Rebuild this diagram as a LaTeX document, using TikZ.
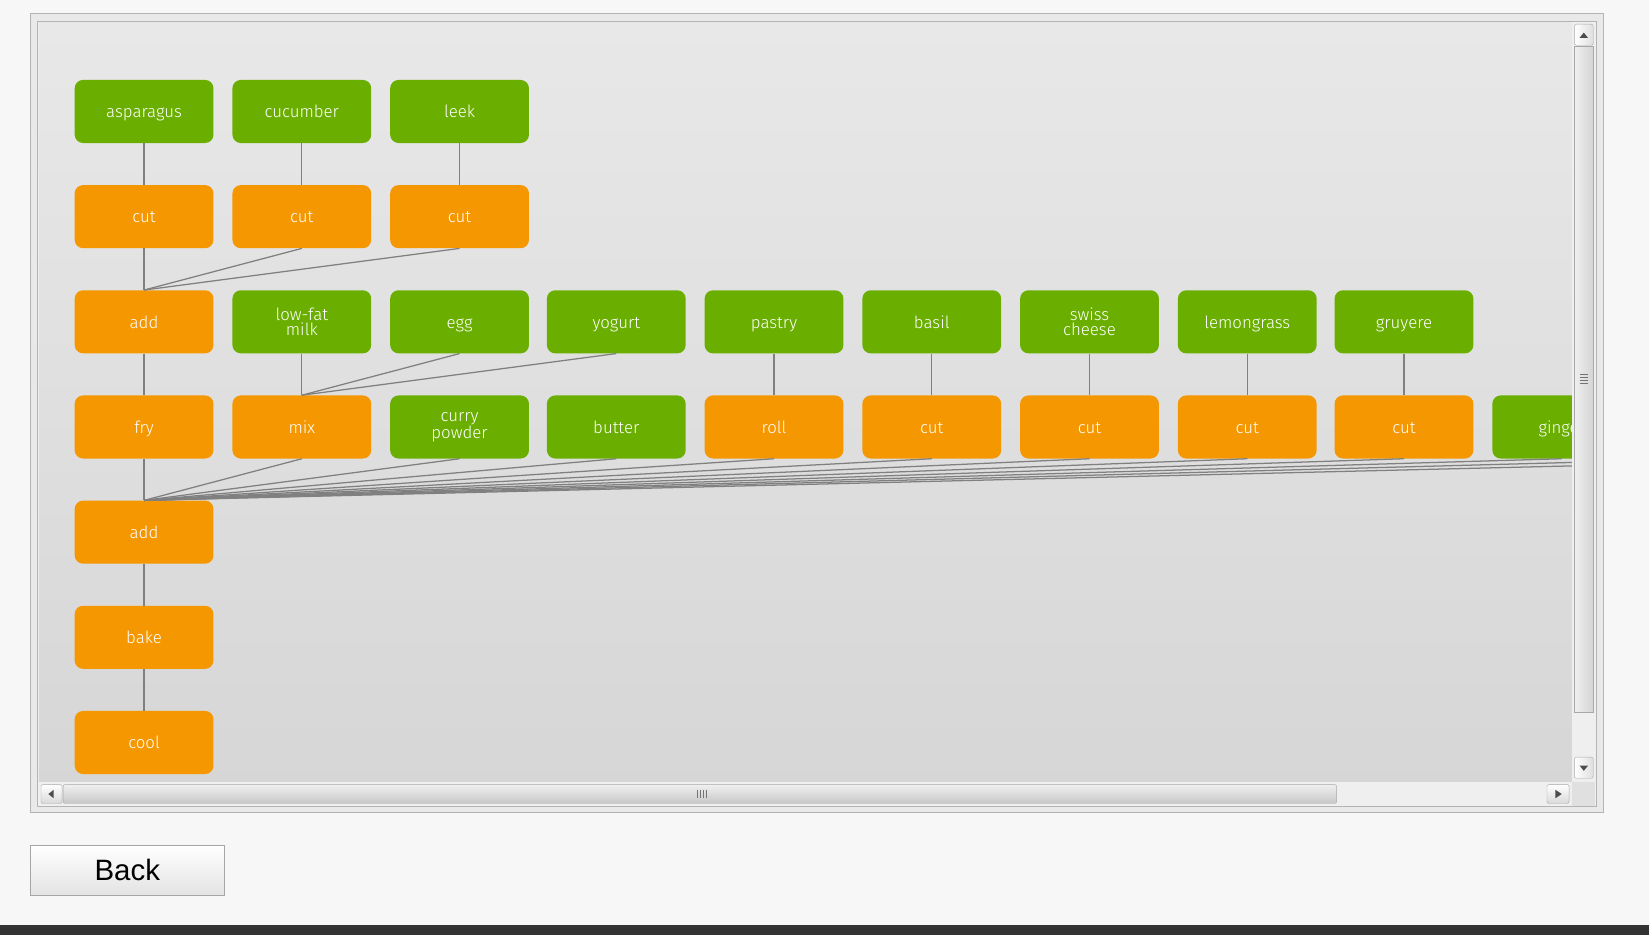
\documentclass[tikz,border=0pt]{standalone}
\usepackage{fontspec}
\setmainfont{Fira Sans Light}
\newfontfamily\arialfont{Liberation Sans}
\definecolor{pagebg}{HTML}{F7F7F7}
\definecolor{darkbar}{HTML}{333333}
\definecolor{framegray}{HTML}{B4B4B4}
\definecolor{framefill}{HTML}{E9E9E9}
\definecolor{ingreen}{HTML}{6AAF00}
\definecolor{oporange}{HTML}{F59700}
\definecolor{edgegray}{HTML}{808080}
\definecolor{sbtrack}{HTML}{EFEFEF}
\definecolor{sbborder}{HTML}{A8A8A8}
\tikzset{
  boxbase/.style={rounded corners=8pt, minimum width=132pt, minimum height=60pt,
    inner sep=0pt, text=white, align=center,
    font=\fontsize{16}{15}\selectfont},
  one/.style={text height=12pt, text depth=0pt},
  ing/.style={boxbase, fill=ingreen},
  op/.style={boxbase, fill=oporange, one},
  edge/.style={draw=edgegray, line width=1.2pt},
  sbbtn/.style={draw=sbborder, rounded corners=2pt, left color=white, right color=sbtrack!85!gray},
  arrowtri/.style={fill=black!70},
}
\begin{document}
\begin{tikzpicture}[x=1pt,y=-1pt]
\useasboundingbox (0,0) rectangle (1568,889);
\fill[pagebg] (0,0) rectangle (1568,889);
\fill[darkbar] (0,880) rectangle (1568,889);
% frames
\draw[framegray, fill=framefill, line width=1pt] (29,13) rectangle (1525,773);
\draw[framegray, fill=sbtrack, line width=1pt] (36,20) rectangle (1518,767);
% content
\shade[top color=black!9, bottom color=black!16] (37,21) rectangle (1495,744);
\begin{scope}
\clip (37,21) rectangle (1495,744);
% row 1
\node[ing, one] (asp) at (137,106) {asparagus};
\node[ing, one] (cuc) at (287,106) {cucumber};
\node[ing, one] (leek) at (437,106) {leek};
% row 2
\node[op] (cutA) at (137,206) {cut};
\node[op] (cutB) at (287,206) {cut};
\node[op] (cutC) at (437,206) {cut};
% row 3
\node[op] (addA) at (137,306) {add};
\node[ing] (milk) at (287,306) {low-fat\\milk};
\node[ing, one] (egg) at (437,306) {egg};
\node[ing, one] (yog) at (586,306) {yogurt};
\node[ing, one] (pastry) at (736,306) {pastry};
\node[ing, one] (basil) at (886,306) {basil};
\node[ing] (swiss) at (1036,306) {swiss\\cheese};
\node[ing, one] (lemon) at (1186,306) {lemongrass};
\node[ing, one] (gruy) at (1335,306) {gruyere};
% row 4
\node[op] (fry) at (137,406) {fry};
\node[op] (mix) at (287,406) {mix};
\node[ing] (curry) at (437,406) {curry\\powder};
\node[ing, one] (butter) at (586,406) {butter};
\node[op] (roll) at (736,406) {roll};
\node[op] (cutD) at (886,406) {cut};
\node[op] (cutE) at (1036,406) {cut};
\node[op] (cutF) at (1186,406) {cut};
\node[op] (cutG) at (1335,406) {cut};
\node[ing, one] (ginger) at (1485,406) {ginger};
\coordinate (offA) at (1635,436);
\coordinate (offB) at (1785,436);
% rows 5-7
\node[op] (addB) at (137,506) {add};
\node[op] (bake) at (137,606) {bake};
\node[op] (cool) at (137,706) {cool};
% edges
\draw[edge] (asp.south) -- (cutA.north);
\draw[edge] (cuc.south) -- (cutB.north);
\draw[edge] (leek.south) -- (cutC.north);
\draw[edge] (cutA.south) -- (addA.north);
\draw[edge] (cutB.south) -- (addA.north);
\draw[edge] (cutC.south) -- (addA.north);
\draw[edge] (addA.south) -- (fry.north);
\draw[edge] (milk.south) -- (mix.north);
\draw[edge] (egg.south) -- (mix.north);
\draw[edge] (yog.south) -- (mix.north);
\draw[edge] (pastry.south) -- (roll.north);
\draw[edge] (basil.south) -- (cutD.north);
\draw[edge] (swiss.south) -- (cutE.north);
\draw[edge] (lemon.south) -- (cutF.north);
\draw[edge] (gruy.south) -- (cutG.north);
\foreach \s in {fry,mix,curry,butter,roll,cutD,cutE,cutF,cutG,ginger}
  \draw[edge] (\s.south) -- (addB.north);
\draw[edge] (offA) -- (addB.north);
\draw[edge] (offB) -- (addB.north);
\draw[edge] (addB.south) -- (bake.north);
\draw[edge] (bake.south) -- (cool.north);
\end{scope}
% vertical scrollbar
\fill[sbtrack] (1495,21) rectangle (1517,744);
\draw[sbbtn] (1497,23) rectangle (1515,43);
\fill[arrowtri] (1502,36) -- (1510,36) -- (1506,31) -- cycle;
\draw[draw=sbborder, left color=black!6, right color=black!17] (1497,44) rectangle (1515,677);
\foreach \yy in {356,359,362,365} \draw[black!55, line width=0.8pt] (1502,\yy) -- (1510,\yy);
\draw[sbbtn] (1497,720) rectangle (1515,740);
\fill[arrowtri] (1502,728) -- (1510,728) -- (1506,733) -- cycle;
% horizontal scrollbar
\fill[sbtrack] (37,744) rectangle (1495,766);
\draw[sbbtn, top color=white, bottom color=black!15] (39,746) rectangle (59,764);
\fill[arrowtri] (51,751) -- (51,759) -- (46,755) -- cycle;
\draw[draw=sbborder, rounded corners=2pt, top color=black!6, bottom color=black!22] (60,746) rectangle (1271,764);
\foreach \xx in {663,666,669,672} \draw[black!55, line width=0.8pt] (\xx,751) -- (\xx,759);
\draw[sbbtn, top color=white, bottom color=black!15] (1471,746) rectangle (1492,764);
\fill[arrowtri] (1479,751) -- (1479,759) -- (1485,755) -- cycle;
\fill[black!12] (1495,744) rectangle (1517,766);
% back button
\node[draw=black!35, top color=white, bottom color=black!11, minimum width=184pt, minimum height=47pt, inner sep=0pt,
  font=\arialfont\fontsize{28}{30}\selectfont] (back) at (121,827.5) {Back};
\end{tikzpicture}
\end{document}
